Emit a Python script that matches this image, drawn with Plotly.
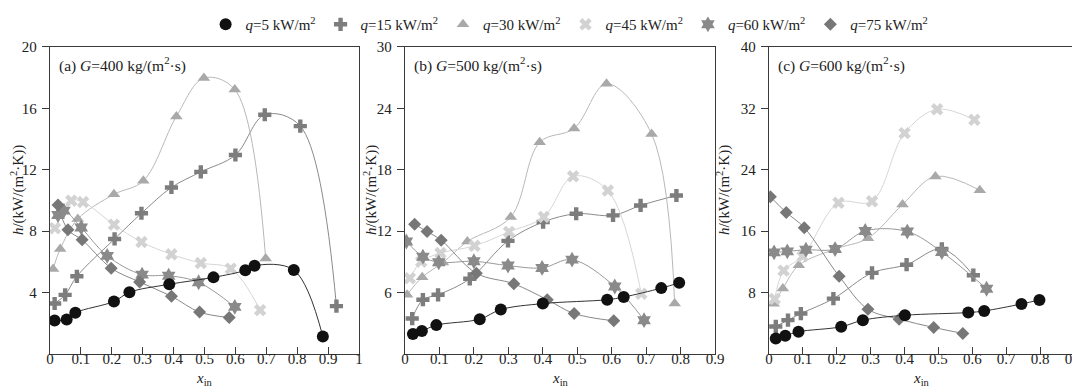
import plotly.graph_objects as go

# ---------------- data ----------------
q_labels = ["5", "15", "30", "45", "60", "75"]

# Panel (a) G=400
a_x5 = [0.015, 0.054, 0.082, 0.207, 0.257, 0.386, 0.529, 0.632, 0.662, 0.789, 0.883]
a_y5 = [2.2, 2.26, 2.7, 3.43, 4.03, 4.55, 5.0, 5.46, 5.76, 5.48, 1.15]
a_x15 = [0.015, 0.049, 0.087, 0.209, 0.296, 0.393, 0.488, 0.6, 0.695, 0.81, 0.927]
a_y15 = [3.3, 3.86, 5.07, 7.5, 9.17, 10.85, 11.86, 12.96, 15.58, 14.84, 3.13]
a_x30 = [0.01, 0.033, 0.09, 0.207, 0.302, 0.409, 0.498, 0.598, 0.698]
a_y30 = [5.55, 6.84, 8.8, 10.4, 11.28, 15.47, 17.97, 17.22, 6.23]
a_x45 = [0.016, 0.069, 0.107, 0.207, 0.296, 0.393, 0.488, 0.585, 0.68]
a_y45 = [8.2, 9.99, 9.9, 8.43, 7.3, 6.5, 5.93, 5.57, 2.87]
a_x60 = [0.026, 0.045, 0.101, 0.185, 0.298, 0.384, 0.481, 0.598]
a_y60 = [9.06, 9.34, 8.24, 6.4, 5.18, 5.11, 4.68, 3.08]
a_x75 = [0.026, 0.058, 0.104, 0.198, 0.29, 0.393, 0.484, 0.58]
a_y75 = [9.7, 8.09, 7.44, 5.6, 4.7, 3.77, 2.74, 2.39]

# Panel (b) G=500
b_x5 = [0.023, 0.049, 0.091, 0.217, 0.278, 0.4, 0.587, 0.635, 0.744, 0.796]
b_y5 = [1.97, 2.26, 2.84, 3.42, 4.36, 4.94, 5.32, 5.58, 6.45, 6.97]
b_x15 = [0.021, 0.052, 0.096, 0.188, 0.299, 0.401, 0.497, 0.604, 0.684, 0.788]
b_y15 = [3.48, 5.32, 5.8, 7.36, 11.06, 12.9, 13.71, 13.55, 14.52, 15.49]
b_x30 = [0.006, 0.05, 0.11, 0.181, 0.307, 0.391, 0.491, 0.585, 0.716, 0.783]
b_y30 = [5.8, 7.52, 8.95, 11.0, 13.39, 20.68, 22.04, 26.4, 21.49, 4.94]
b_x45 = [0.014, 0.047, 0.103, 0.202, 0.302, 0.403, 0.488, 0.589, 0.686]
b_y45 = [7.42, 9.03, 9.87, 10.58, 11.94, 13.4, 17.36, 15.97, 5.9]
b_x60 = [0.004, 0.052, 0.098, 0.2, 0.299, 0.398, 0.485, 0.609, 0.694]
b_y60 = [11.0, 9.52, 8.97, 9.07, 8.65, 8.42, 9.23, 6.61, 3.32]
b_x75 = [0.028, 0.064, 0.105, 0.207, 0.316, 0.413, 0.491, 0.606]
b_y75 = [12.68, 11.97, 11.13, 7.9, 6.87, 5.32, 3.97, 3.26]

# Panel (c) G=600
c_x5 = [0.02, 0.048, 0.087, 0.213, 0.277, 0.401, 0.588, 0.635, 0.745, 0.798]
c_y5 = [2.06, 2.41, 2.93, 3.57, 4.43, 5.07, 5.42, 5.63, 6.54, 7.06]
c_x15 = [0.02, 0.056, 0.094, 0.19, 0.304, 0.406, 0.51, 0.603]
c_y15 = [3.61, 4.43, 5.29, 7.23, 10.58, 11.65, 13.7, 10.28]
c_x30 = [0.014, 0.041, 0.088, 0.195, 0.292, 0.394, 0.491, 0.622]
c_y30 = [6.58, 8.56, 11.57, 13.68, 15.1, 19.48, 23.14, 21.33]
c_x45 = [0.017, 0.043, 0.099, 0.205, 0.304, 0.4, 0.496, 0.606]
c_y45 = [7.2, 10.88, 12.73, 19.7, 19.9, 28.77, 31.87, 30.5]
c_x60 = [0.015, 0.054, 0.109, 0.195, 0.284, 0.408, 0.51, 0.642]
c_y60 = [13.25, 13.38, 13.59, 13.68, 16.04, 15.96, 13.3, 8.52]
c_x75 = [0.004, 0.051, 0.104, 0.207, 0.292, 0.384, 0.486, 0.572]
c_y75 = [20.48, 18.45, 16.47, 10.15, 5.85, 4.56, 3.48, 2.71]

panel_titles = ["(a) <i>G</i>=400 kg/(m<sup>2</sup>·s)",
                "(b) <i>G</i>=500 kg/(m<sup>2</sup>·s)",
                "(c) <i>G</i>=600 kg/(m<sup>2</sup>·s)"]
x_ranges = [[0, 1.0], [0, 0.9], [0, 0.9]]
y_ranges = [[0, 20], [0, 30], [0, 40]]
y_ticks = [[4, 8, 12, 16, 20], [6, 12, 18, 24, 30], [8, 16, 24, 32, 40]]
x_ticks_a = [0, 0.1, 0.2, 0.3, 0.4, 0.5, 0.6, 0.7, 0.8, 0.9, 1.0]
x_labels_a = ["0", "0.1", "0.2", "0.3", "0.4", "0.5", "0.6", "0.7", "0.8", "0.9", "1"]
x_ticks_bc = [0, 0.1, 0.2, 0.3, 0.4, 0.5, 0.6, 0.7, 0.8, 0.9]
x_labels_bc = ["0", "0.1", "0.2", "0.3", "0.4", "0.5", "0.6", "0.7", "0.8", "0.9"]

panels = [
    [(a_x5, a_y5), (a_x15, a_y15), (a_x30, a_y30), (a_x45, a_y45), (a_x60, a_y60), (a_x75, a_y75)],
    [(b_x5, b_y5), (b_x15, b_y15), (b_x30, b_y30), (b_x45, b_y45), (b_x60, b_y60), (b_x75, b_y75)],
    [(c_x5, c_y5), (c_x15, c_y15), (c_x30, c_y30), (c_x45, c_y45), (c_x60, c_y60), (c_x75, c_y75)],
]

# ---------------- styles ----------------
FONT = "Liberation Serif"
TXT = "#222222"
symbols = ["circle", "cross", "triangle-up", "x", "hexagram", "diamond"]
mcolors = ["#111111", "#7d7d7d", "#a9a9a9", "#d2d2d2", "#8a8a8a", "#777777"]
lcolors = ["#333333", "#8a8a8a", "#b8b8b8", "#d6d6d6", "#999999", "#888888"]
msizes = [12, 11, 11, 11, 12, 10]
draw_order = [1, 2, 3, 4, 5, 0]

x_domains = [[42 / 1080, 351 / 1080], [397 / 1080, 707 / 1080], [761 / 1080, 1066 / 1080]]
y_domain = [1 - 346 / 388, 1 - 37 / 388]

fig = go.Figure()

for p in range(3):
    xa = "x" if p == 0 else f"x{p+1}"
    ya = "y" if p == 0 else f"y{p+1}"
    for s in draw_order:
        xs, ys = panels[p][s]
        fig.add_trace(go.Scatter(
            x=xs, y=ys, mode="lines+markers", xaxis=xa, yaxis=ya,
            line=dict(color=lcolors[s], width=1, shape="spline", smoothing=1.0),
            marker=dict(symbol=symbols[s], size=msizes[s], color=mcolors[s],
                        line=dict(width=0)),
            showlegend=False, hoverinfo="skip"))

# legend-only traces (markers only)
for s in range(6):
    fig.add_trace(go.Scatter(
        x=[None], y=[None], mode="markers",
        marker=dict(symbol=symbols[s], size=msizes[s], color=mcolors[s], line=dict(width=0)),
        name=f"<i>q</i>={q_labels[s]} kW/m<sup>2</sup>", showlegend=True))

axis_common = dict(showline=True, linecolor="#3a3a3a", linewidth=1.3, mirror=True,
                   showgrid=False, zeroline=False, automargin=False,
                   tickfont=dict(family=FONT, size=15, color=TXT))

layout = dict(
    width=1080, height=388,
    margin=dict(l=0, r=0, t=0, b=0),
    paper_bgcolor="white", plot_bgcolor="white",
    font=dict(family=FONT, size=15, color=TXT),
    showlegend=True,
    legend=dict(orientation="h", x=0.52, xanchor="center", y=1.005, yanchor="top",
                font=dict(family=FONT, size=15, color=TXT),
                bgcolor="rgba(0,0,0,0)", itemwidth=30, tracegroupgap=0),
)

annotations = []
y_title_x = [9, 362, 715]
for p in range(3):
    suffix = "" if p == 0 else str(p + 1)
    xt = x_ticks_a if p == 0 else x_ticks_bc
    xl = x_labels_a if p == 0 else x_labels_bc
    layout["xaxis" + suffix] = dict(
        axis_common, domain=x_domains[p], range=x_ranges[p],
        anchor="y" + suffix, tickmode="array", tickvals=xt, ticktext=xl,
        ticks="inside", ticklen=7, tickcolor="#3a3a3a", tickwidth=1,
        ticklabelstandoff=-9)
    layout["yaxis" + suffix] = dict(
        axis_common, domain=y_domain, range=y_ranges[p],
        anchor="x" + suffix, tickmode="array", tickvals=y_ticks[p],
        ticks="outside", ticklen=7, tickcolor="#3a3a3a", tickwidth=1,
        ticklabelstandoff=2)
    # panel label
    annotations.append(dict(
        xref="paper", yref="paper", x=x_domains[p][0] + 7 / 1080, y=1 - 55 / 388,
        xanchor="left", yanchor="middle", showarrow=False,
        text=panel_titles[p], font=dict(family=FONT, size=15.5, color=TXT)))
    # x title
    annotations.append(dict(
        xref="paper", yref="paper", x=(x_domains[p][0] + x_domains[p][1]) / 2, y=1 - 371 / 388,
        xanchor="center", yanchor="middle", showarrow=False,
        text="<i>x</i><sub>in</sub>", font=dict(family=FONT, size=15, color=TXT)))
    # y title
    annotations.append(dict(
        xref="paper", yref="paper", x=y_title_x[p] / 1080, y=1 - 181 / 388,
        xanchor="center", yanchor="middle", showarrow=False, textangle=-90,
        text="<i>h</i>/(kW/(m<sup>2</sup>·K))", font=dict(family=FONT, size=15, color=TXT)))

layout["annotations"] = annotations
fig.update_layout(layout)

fig.write_html("out.html")
